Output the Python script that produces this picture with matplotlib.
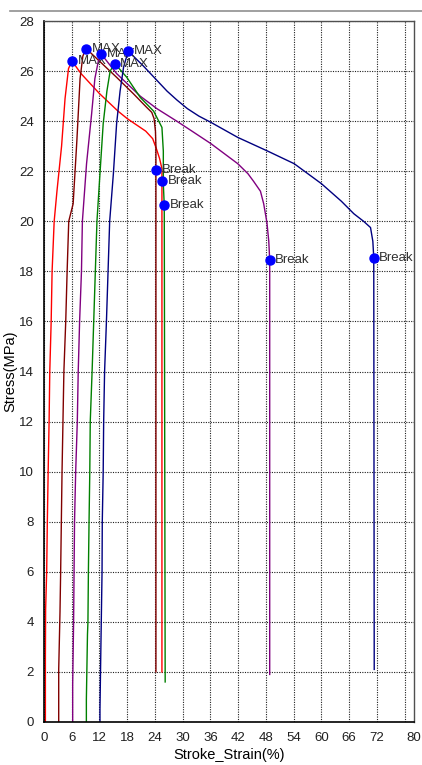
import matplotlib.pyplot as plt
from matplotlib.lines import Line2D

plt.rcParams['font.family'] = ['Liberation Sans', 'DejaVu Sans']

# specimen curves: strain (%) and stress (MPa)
red_x = [0.3, 0.3, 0.35, 0.58, 0.72, 0.9, 1.1, 1.25, 1.55, 1.75, 2.2, 2.8, 3.8, 4.55, 5.3, 6.06,
         8.0, 10.0, 12.0, 14.0, 16.0, 18.0, 20.0, 22.0, 23.5, 24.3, 25.0, 25.5, 25.5, 25.5]
red_y = [0.0, 2.6, 4.5, 6.0, 8.0, 10.0, 12.0, 14.0, 16.0, 18.0, 20.0, 21.2, 23.0, 24.9, 26.1, 26.4,
         25.9, 25.5, 25.1, 24.75, 24.4, 24.1, 23.85, 23.6, 23.3, 22.9, 22.5, 22.1, 21.6, 2.0]

brown_x = [3.18, 3.18, 3.46, 3.6, 3.75, 3.9, 4.1, 4.3, 4.7, 5.0, 5.35, 6.3, 7.1, 7.8, 8.4, 9.1,
           11.4, 15.7, 19.3, 22.2, 23.3, 23.8, 24.1, 24.2, 24.2, 24.2]
brown_y = [0.0, 2.1, 4.4, 6.0, 8.0, 10.0, 12.0, 14.0, 16.0, 18.0, 20.0, 20.7, 23.2, 25.7, 26.6, 26.9,
           26.5, 25.75, 25.1, 24.55, 24.35, 24.1, 23.6, 23.0, 22.05, 2.0]

purple_x = [6.2, 6.2, 6.4, 6.5, 6.6, 6.85, 7.2, 7.4, 7.7, 8.1, 8.3, 9.2, 10.3, 11.0, 11.75, 12.3,
            15.7, 20.8, 24.4, 28.7, 32.0, 36.1, 41.9, 44.1, 45.3, 46.8, 47.5, 48.2, 48.6, 48.8, 48.8]
purple_y = [0.0, 1.5, 4.0, 6.0, 8.0, 10.0, 12.0, 14.0, 16.0, 18.0, 20.0, 22.3, 24.3, 25.7, 26.4, 26.7,
            25.9, 25.0, 24.5, 24.0, 23.6, 23.1, 22.3, 21.9, 21.6, 21.2, 20.7, 19.95, 19.2, 18.45, 1.9]

green_x = [9.16, 9.16, 9.4, 9.5, 9.6, 9.74, 9.9, 10.0, 10.4, 10.75, 11.1, 11.45, 12.1, 12.8, 13.6, 14.3,
           15.3, 17.9, 20.8, 23.7, 25.5, 25.8, 25.8, 26.0, 26.2]
green_y = [0.0, 0.9, 3.5, 4.0, 6.0, 8.0, 10.0, 12.0, 14.0, 16.0, 18.0, 20.0, 21.9, 23.9, 25.2, 26.0,
           26.3, 25.75, 24.95, 24.4, 23.75, 22.8, 21.5, 20.65, 1.6]

navy_x = [12.1, 12.1, 12.3, 12.55, 12.6, 12.8, 12.9, 13.1, 13.5, 13.85, 14.2, 15.0, 15.7, 16.45, 17.2, 18.2,
          21.5, 26.6, 28.7, 31.0, 33.5, 36.1, 41.9, 48.4, 54.1, 60.0, 64.3, 67.0, 69.1, 70.6, 71.1, 71.3, 71.4]
navy_y = [0.0, 0.5, 3.0, 6.0, 8.0, 10.0, 12.0, 14.0, 16.0, 18.0, 20.0, 21.9, 23.9, 25.2, 26.15, 26.8,
          26.2, 25.2, 24.85, 24.5, 24.2, 23.95, 23.35, 22.8, 22.3, 21.5, 20.8, 20.3, 20.0, 19.75, 19.2, 18.55, 2.1]

max_x = [6.06, 9.1, 12.3, 15.3, 18.2]
max_y = [26.4, 26.9, 26.7, 26.3, 26.8]
break_x = [24.2, 25.5, 26.0, 48.8, 71.3]
break_y = [22.05, 21.6, 20.65, 18.45, 18.55]

xticks = [0, 6, 12, 18, 24, 30, 36, 42, 48, 54, 60, 66, 72, 80]
xgrid = [0, 6, 12, 18, 24, 30, 36, 42, 48, 54, 60, 66, 72, 78]
yticks = list(range(0, 29, 2))

fig = plt.figure(figsize=(4.22, 7.65), dpi=100)
ax = fig.add_axes([44 / 422, 43 / 765, 370 / 422, 701 / 765])

# thin gray rule above the plot
fig.add_artist(Line2D([10 / 422, 1.0], [754 / 765, 754 / 765], transform=fig.transFigure,
                      color='#909090', lw=1.2))

for gx in xgrid:
    ax.axvline(gx, color='#202020', lw=0.8, ls=(0, (1, 1.2)), zorder=0)
for gy in yticks:
    ax.axhline(gy, color='#202020', lw=0.8, ls=(0, (1, 1.2)), zorder=0)

ax.plot(red_x, red_y, color='#ff0000', lw=1)
ax.plot(brown_x, brown_y, color='#800000', lw=1)
ax.plot(purple_x, purple_y, color='#800080', lw=1)
ax.plot(green_x, green_y, color='#008000', lw=1)
ax.plot(navy_x, navy_y, color='#000080', lw=1)

# labels first, markers drawn on top of them (as in the reference)
for mx, my in zip(max_x, max_y):
    ax.annotate('MAX', (mx, my), xytext=(4, 0), textcoords='offset points',
                va='center', ha='left', fontsize=9.5, color='#303030', zorder=5)
for bx, by in zip(break_x, break_y):
    ax.annotate('Break', (bx, by), xytext=(4, 0), textcoords='offset points',
                va='center', ha='left', fontsize=9.5, color='#303030', zorder=5)
ax.plot(max_x, max_y, 'o', color='#0000ff', ms=6.5, zorder=7)
ax.plot(break_x, break_y, 'o', color='#0000ff', ms=6.5, zorder=7)

ax.set_xlim(0, 80)
ax.set_ylim(0, 28)
ax.set_xticks(xticks)
ax.set_yticks(yticks)
ax.tick_params(length=0, labelsize=9.5, colors='#202020')
ax.tick_params(axis='x', pad=7)
ax.tick_params(axis='y', pad=7.5)
ax.set_xlabel('Stroke_Strain(%)', fontsize=10.5, labelpad=3)
ax.set_ylabel('Stress(MPa)', fontsize=10.5, labelpad=1)

for side in ['left', 'bottom']:
    ax.spines[side].set_color('black')
    ax.spines[side].set_linewidth(1.2)
for side in ['top', 'right']:
    ax.spines[side].set_color('#505050')
    ax.spines[side].set_linewidth(1)

fig.savefig('out.png', dpi=100)
